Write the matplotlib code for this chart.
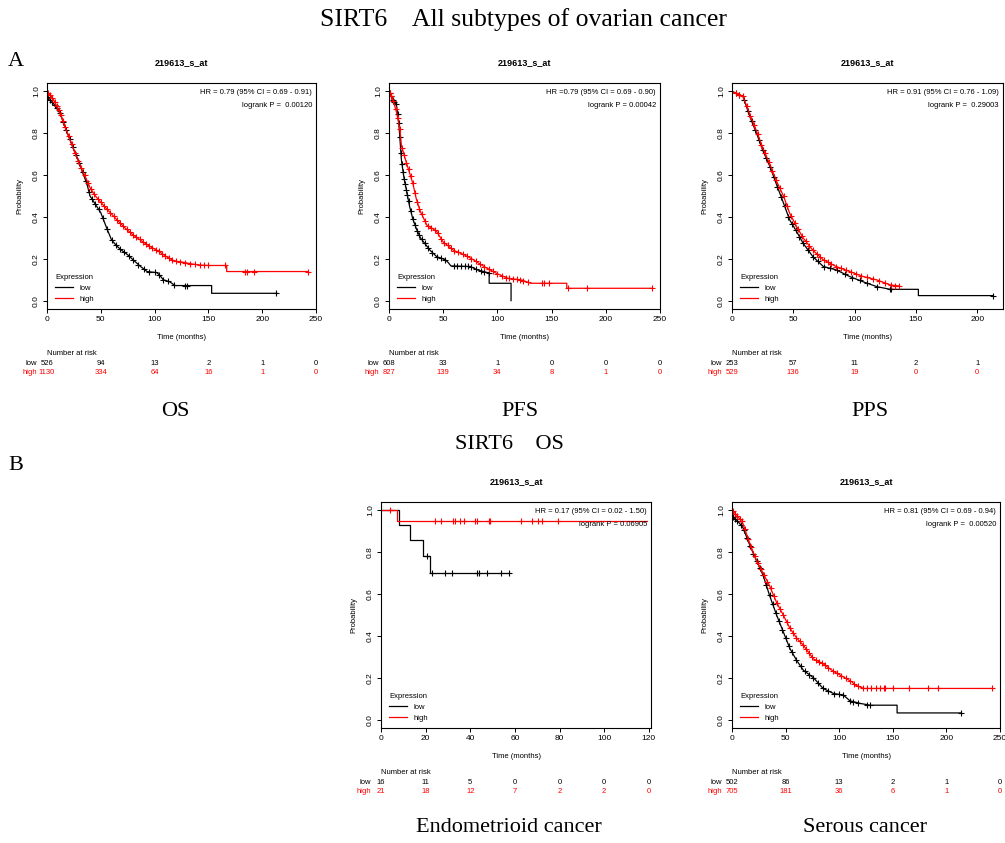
import numpy as np
import matplotlib
matplotlib.use('Agg')
import matplotlib.pyplot as plt
import matplotlib.transforms as mtransforms

plt.rcParams['font.family'] = 'Liberation Sans'

# curves are given as their corner points (time in months, survival probability)
# --- A: OS ---
os_low_t = [0, 5, 12, 19, 25, 30, 34, 37, 40, 45, 50, 53, 56, 60, 65, 71, 76, 80, 87, 93, 102, 105, 108, 114, 119, 153, 153, 213.5]
os_low_s = [0.976, 0.95, 0.896, 0.80, 0.72, 0.66, 0.60, 0.56, 0.50, 0.46, 0.42, 0.38, 0.34, 0.29, 0.26, 0.234, 0.215, 0.195, 0.163, 0.139, 0.134, 0.12, 0.10, 0.09, 0.072, 0.072, 0.035, 0.035]
os_high_t = [0, 5, 12, 19, 25, 30, 34, 40, 45, 50, 57, 65, 72, 80, 88, 96, 104, 111, 118, 127, 135, 142, 150, 167, 167, 242]
os_high_s = [1.0, 0.97, 0.90, 0.80, 0.72, 0.655, 0.61, 0.54, 0.50, 0.47, 0.43, 0.386, 0.35, 0.314, 0.285, 0.258, 0.235, 0.21, 0.19, 0.183, 0.175, 0.17, 0.168, 0.168, 0.139, 0.139]
os_low_cens = [1, 3, 5, 7, 9, 12, 15, 18, 21, 24, 27, 30, 33, 36, 39, 42, 45, 48, 52, 56, 60, 64, 68, 72, 76, 80,
               85, 90, 95, 100, 104, 108, 112, 118, 128, 130, 213]
os_high_cens = [1, 3, 5, 7, 9, 11, 13, 15, 17, 20, 23, 26, 29, 32, 35, 38, 41, 44, 47, 50, 53, 56, 59, 62, 65, 68,
                71, 74, 77, 80, 83, 86, 89, 92, 95, 98, 101, 104, 107, 110, 113, 116, 120, 124, 128, 133, 138, 142,
                146, 150, 165, 184, 186, 192, 243]

# --- A: PFS ---
pfs_low_t = [0, 3, 7, 9, 10, 11.5, 14, 16, 19, 22, 25.5, 29, 32, 38, 44, 52, 55, 57, 75, 81.5, 90.8, 92.4, 92.4, 112.6, 112.6]
pfs_low_s = [1.0, 0.97, 0.93, 0.85, 0.78, 0.67, 0.58, 0.53, 0.45, 0.39, 0.34, 0.30, 0.28, 0.24, 0.21, 0.195, 0.18, 0.166, 0.163, 0.147, 0.134, 0.134, 0.083, 0.083, 0.0]
pfs_high_t = [0, 3, 7, 10, 11.5, 16, 22, 25, 28.6, 35, 40, 44, 50, 55, 59.7, 69, 78, 87.7, 100, 109.5, 122, 131, 164, 164, 242.5]
pfs_high_s = [1.0, 0.97, 0.90, 0.82, 0.74, 0.66, 0.56, 0.49, 0.43, 0.36, 0.345, 0.33, 0.28, 0.26, 0.24, 0.22, 0.195, 0.163, 0.128, 0.107, 0.099, 0.083, 0.083, 0.059, 0.059]
pfs_low_cens = [1, 2, 4, 5, 6, 8, 9, 10, 11, 12, 13, 14, 15, 16, 17, 18, 20, 22, 24, 26, 28, 30, 33, 36, 40, 44, 48,
                52, 60, 63, 66, 70, 73, 76, 80, 85, 88, 92]
pfs_high_cens = [1, 2, 4, 6, 8, 10, 12, 14, 16, 18, 20, 22, 24, 26, 28, 30, 33, 36, 39, 42, 45, 48, 51, 54, 57, 60,
                 64, 68, 72, 76, 80, 84, 88, 92, 96, 100, 104, 108, 111, 114, 118, 121, 124, 128, 141, 143, 148, 165,
                 183, 243]

# --- A: PPS ---
pps_low_t = [0, 9, 14.5, 20, 25, 31, 36, 42, 47, 52.7, 58, 66, 74.5, 85, 96, 107, 118, 129, 152, 152, 213]
pps_low_s = [1.0, 0.976, 0.88, 0.80, 0.72, 0.64, 0.56, 0.466, 0.386, 0.33, 0.274, 0.21, 0.163, 0.147, 0.115, 0.09, 0.067, 0.054, 0.054, 0.024, 0.024]
pps_high_t = [0, 9, 14.5, 20, 25, 31, 36, 42, 47, 52.7, 58, 66, 74.5, 85, 96, 107, 118, 129, 136]
pps_high_s = [1.0, 0.976, 0.89, 0.81, 0.73, 0.65, 0.575, 0.50, 0.418, 0.354, 0.30, 0.24, 0.195, 0.163, 0.139, 0.115, 0.099, 0.075, 0.07]
pps_low_cens = [3, 6, 10, 13, 16, 19, 22, 25, 28, 31, 34, 37, 40, 43, 46, 49, 52, 55, 58, 62, 66, 70, 75, 80, 86, 92,
                98, 104, 110, 118, 129, 130, 213]
pps_high_cens = [3, 6, 9, 12, 15, 18, 21, 24, 27, 30, 33, 36, 39, 42, 45, 48, 51, 54, 57, 60, 63, 66, 69, 72, 75, 78,
                 81, 85, 89, 93, 97, 101, 105, 110, 115, 120, 125, 130, 133, 136]

# --- B: endometrioid ---
endo_low_t = [0, 7.9, 7.9, 13.2, 13.2, 18.8, 18.8, 22.1, 22.1, 57.5]
endo_low_s = [1.0, 1.0, 0.93, 0.93, 0.86, 0.86, 0.784, 0.784, 0.70, 0.70]
endo_high_t = [0, 7.2, 7.2, 119]
endo_high_s = [1.0, 1.0, 0.947, 0.947]
endo_low_cens = [20.6, 22.9, 28.8, 31.8, 43, 43.7, 47.5, 53.8, 57.2]
endo_high_cens = [4.2, 24.4, 26.9, 32.3, 33, 35.6, 37.4, 42.3, 42.8, 48.3, 48.7, 62.8, 67.7, 70.3, 72.2, 79.2]

# --- B: serous ---
ser_low_t = [0, 5, 10, 16.5, 22.8, 29, 35, 41.6, 47.8, 54, 60.3, 66.6, 76, 85, 94.7, 104, 110, 120, 129, 154, 154, 214]
ser_low_s = [0.974, 0.95, 0.92, 0.835, 0.76, 0.69, 0.594, 0.50, 0.42, 0.34, 0.283, 0.236, 0.20, 0.149, 0.125, 0.117, 0.09, 0.077, 0.069, 0.069, 0.032, 0.032]
ser_high_t = [0, 5, 10, 16.5, 22.8, 29, 35, 41.6, 47.8, 54, 60.3, 66.6, 76, 85, 94.7, 104, 112, 115, 123, 243]
ser_high_s = [1.0, 0.975, 0.94, 0.843, 0.76, 0.70, 0.64, 0.56, 0.50, 0.437, 0.39, 0.355, 0.29, 0.267, 0.23, 0.204, 0.18, 0.165, 0.149, 0.149]
ser_low_cens = [1, 3, 5, 8, 11, 14, 17, 20, 23, 26, 29, 32, 35, 38, 41, 44, 47, 50, 53, 56, 60, 64, 68, 72, 76, 80,
                85, 90, 95, 100, 104, 110, 113, 118, 126, 129, 214]
ser_high_cens = [1, 3, 5, 7, 9, 12, 15, 18, 21, 24, 27, 30, 33, 36, 39, 42, 45, 48, 51, 54, 57, 60, 63, 66, 69, 72,
                 75, 78, 81, 84, 87, 90, 94, 98, 102, 106, 110, 114, 118, 122, 126, 130, 134, 138, 142, 143, 150, 165,
                 183, 192, 243]

# number at risk
os_ticks = [0, 50, 100, 150, 200, 250]
os_risk_low = [526, 94, 13, 2, 1, 0]
os_risk_high = [1130, 334, 64, 16, 1, 0]
pfs_risk_low = [608, 33, 1, 0, 0, 0]
pfs_risk_high = [827, 139, 34, 8, 1, 0]
pps_ticks = [0, 50, 100, 150, 200]
pps_risk_low = [253, 57, 11, 2, 1]
pps_risk_high = [529, 136, 19, 0, 0]
endo_ticks = [0, 20, 40, 60, 80, 100, 120]
endo_risk_low = [16, 11, 5, 0, 0, 0, 0]
endo_risk_high = [21, 18, 12, 7, 2, 2, 0]
ser_risk_low = [502, 86, 13, 2, 1, 0]
ser_risk_high = [705, 181, 36, 6, 1, 0]

hr_texts = ['HR = 0.79 (95% CI = 0.69 - 0.91)', 'HR =0.79 (95% CI = 0.69 - 0.90)',
            'HR = 0.91 (95% CI = 0.76 - 1.09)', 'HR = 0.17 (95% CI = 0.02 - 1.50)',
            'HR = 0.81 (95% CI = 0.69 - 0.94)']
p_texts = ['logrank P =  0.00120', 'logrank P = 0.00042', 'logrank P =  0.29003',
           'logrank P = 0.06905', 'logrank P =  0.00520']

W, H = 1005, 843
fig = plt.figure(figsize=(W / 100, H / 100), dpi=100)
fs = 5.5


def km_panel(box, xmax, ticks, low, high, risk_low, risk_high, hr, p):
    l, r, t, b = box
    ax = fig.add_axes([l / W, 1 - b / H, (r - l) / W, (b - t) / H])
    for (tt, ss, cens), col in zip([low, high], ['black', 'red']):
        ax.plot(tt, ss, color=col, lw=0.9)
        # censoring ticks sit on the curve
        ax.plot(cens, np.interp(cens, tt, ss), ls='none', marker='+', color=col, ms=5, mew=0.8)
    ax.set_xlim(0, xmax)
    ax.set_ylim(-0.04, 1.04)
    ax.set_xticks(ticks)
    ax.set_yticks([0, 0.2, 0.4, 0.6, 0.8, 1.0])
    ax.set_yticklabels(['0.0', '0.2', '0.4', '0.6', '0.8', '1.0'], rotation=90, va='center')
    ax.tick_params(labelsize=fs + 0.5, length=3, width=0.7, pad=2)
    for s in ax.spines.values():
        s.set_linewidth(0.8)
    ax.set_xlabel('Time (months)', fontsize=fs, labelpad=8)
    ax.set_ylabel('Probability', fontsize=fs, labelpad=7)
    ax.set_title('219613_s_at', fontsize=6.5, fontweight='bold', pad=13)
    ax.text(0.985, 0.956, hr, transform=ax.transAxes, ha='right', va='center', fontsize=fs)
    ax.text(0.985, 0.90, p, transform=ax.transAxes, ha='right', va='center', fontsize=fs)
    ax.plot([], [], color='black', lw=0.9, label='low')
    ax.plot([], [], color='red', lw=0.9, label='high')
    ax.legend(loc='lower left', bbox_to_anchor=(0.0, -0.01), frameon=False, fontsize=fs,
              title='Expression', title_fontsize=fs, alignment='left', handlelength=2.3,
              labelspacing=0.45, borderpad=0.6)
    trans = mtransforms.blended_transform_factory(ax.transData, ax.transAxes)
    off = mtransforms.offset_copy(trans, fig=fig, x=-10, y=0, units='dots')
    ax.text(0, -0.195, 'Number at risk', transform=trans, ha='left', va='center', fontsize=fs)
    for y, vals, lab, col in [(-0.239, risk_low, 'low', 'black'), (-0.283, risk_high, 'high', 'red')]:
        ax.text(0, y, lab, transform=off, ha='right', va='center', fontsize=fs, color=col)
        for x, v in zip(ticks, vals):
            ax.text(x, y, str(v), transform=trans, ha='center', va='center', fontsize=fs, color=col)
    return ax


km_panel((47, 316, 83, 309), 250, os_ticks,
         (os_low_t, os_low_s, os_low_cens), (os_high_t, os_high_s, os_high_cens),
         os_risk_low, os_risk_high, hr_texts[0], p_texts[0])
km_panel((389, 660, 83, 309), 250, os_ticks,
         (pfs_low_t, pfs_low_s, pfs_low_cens), (pfs_high_t, pfs_high_s, pfs_high_cens),
         pfs_risk_low, pfs_risk_high, hr_texts[1], p_texts[1])
km_panel((732, 1003, 83, 309), 221, pps_ticks,
         (pps_low_t, pps_low_s, pps_low_cens), (pps_high_t, pps_high_s, pps_high_cens),
         pps_risk_low, pps_risk_high, hr_texts[2], p_texts[2])
km_panel((381, 651, 502, 728), 121, endo_ticks,
         (endo_low_t, endo_low_s, endo_low_cens), (endo_high_t, endo_high_s, endo_high_cens),
         endo_risk_low, endo_risk_high, hr_texts[3], p_texts[3])
km_panel((732, 1000, 502, 728), 250, os_ticks,
         (ser_low_t, ser_low_s, ser_low_cens), (ser_high_t, ser_high_s, ser_high_cens),
         ser_risk_low, ser_risk_high, hr_texts[4], p_texts[4])

serif = 'Liberation Serif'
fig.text(524 / W, 1 - 20 / H, 'SIRT6    All subtypes of ovarian cancer', family=serif, fontsize=18.5,
         ha='center', va='center')
fig.text(16 / W, 1 - 62 / H, 'A', family=serif, fontsize=16, ha='center', va='center')
fig.text(16 / W, 1 - 465 / H, 'B', family=serif, fontsize=16, ha='center', va='center')
for x, s in [(175, 'OS'), (520, 'PFS'), (870, 'PPS')]:
    fig.text(x / W, 1 - 412 / H, s, family=serif, fontsize=16, ha='center', va='center')
fig.text(509 / W, 1 - 445 / H, 'SIRT6    OS', family=serif, fontsize=16, ha='center', va='center')
fig.text(509 / W, 1 - 828 / H, 'Endometrioid cancer', family=serif, fontsize=16, ha='center', va='center')
fig.text(865 / W, 1 - 828 / H, 'Serous cancer', family=serif, fontsize=16, ha='center', va='center')

fig.savefig('out.png', dpi=100)
